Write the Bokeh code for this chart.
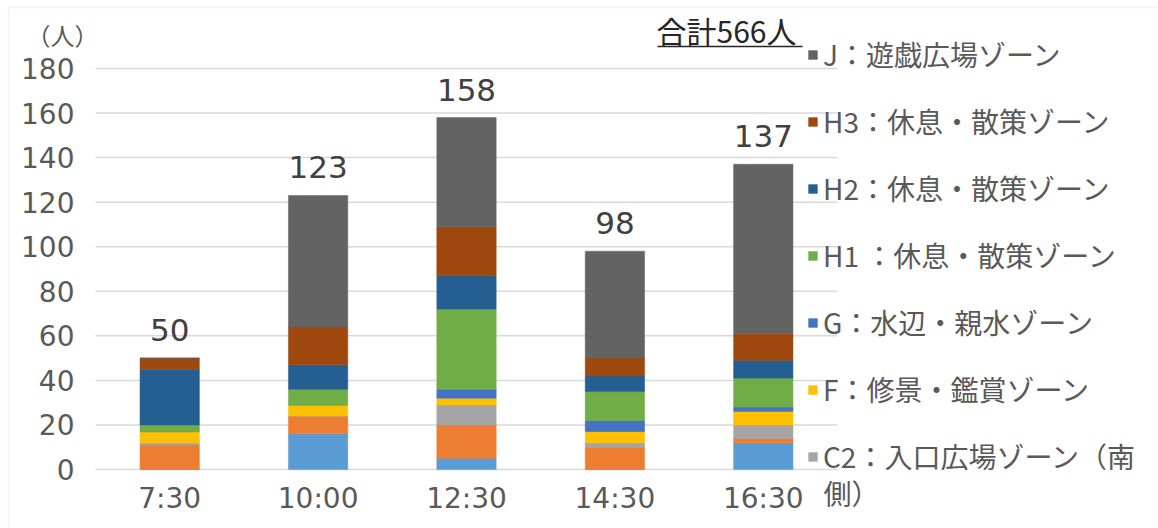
from bokeh.plotting import figure
from bokeh.models import Range1d, Legend, LegendItem, Label, BoxAnnotation, ColumnDataSource
from bokeh.core.properties import value
from bokeh.embed import file_html
from bokeh.resources import INLINE

# Visitors counted per survey time, stacked by zone (bottom to top)
times = ["7:30", "10:00", "12:30", "14:30", "16:30"]
zone_b = [0, 16, 5, 0, 12]
zone_c1 = [11, 8, 15, 10, 2]
zone_c2 = [1, 0, 9, 2, 6]
zone_f = [5, 5, 3, 5, 6]
zone_g = [0, 0, 4, 5, 2]
zone_h1 = [3, 7, 36, 13, 13]
zone_h2 = [25, 11, 15, 7, 8]
zone_h3 = [5, 17, 22, 8, 12]
zone_j = [0, 59, 49, 48, 76]

y_ticks = [0, 20, 40, 60, 80, 100, 120, 140, 160, 180]

stack_keys = ["b", "c1", "c2", "f", "g", "h1", "h2", "h3", "j"]
stack_values = [zone_b, zone_c1, zone_c2, zone_f, zone_g, zone_h1, zone_h2, zone_h3, zone_j]
stack_colors = ["#5B9BD5", "#ED7D31", "#A5A5A5", "#FFC000", "#4472C4",
                "#70AD47", "#255E91", "#9E480E", "#636363"]
legend_labels = {
    "j": "J：遊戯広場ゾーン",
    "h3": "H3：休息・散策ゾーン",
    "h2": "H2：休息・散策ゾーン",
    "h1": "H1 ：休息・散策ゾーン",
    "g": "G：水辺・親水ゾーン",
    "f": "F：修景・鑑賞ゾーン",
    "c2": "C2：入口広場ゾーン（南",
}
c2_wrap = "側）"

totals = [sum(col) for col in zip(*stack_values)]
grand_total = sum(totals)
pos = list(range(len(times)))

data = {"pos": pos, "time": times, "total": totals,
        "total_text": [str(t) for t in totals]}
for k, v in zip(stack_keys, stack_values):
    data[k] = v
source = ColumnDataSource(data)

TEXT = "#595959"
NUM_FONT = "DejaVu Sans"
JP_FONT = "Noto Sans CJK JP"

W, H = 1158, 528
PLOT_LEFT, PLOT_RIGHT, PLOT_TOP, PLOT_BOTTOM = 95, 837, 68, 469
y_max = y_ticks[-1]
n = len(times)
band = (PLOT_RIGHT - PLOT_LEFT) / n
unit = (PLOT_BOTTOM - PLOT_TOP) / y_max

x_start = -0.5 - PLOT_LEFT / band
x_end = x_start + W / band
y_start = -(H - PLOT_BOTTOM) / unit
y_end = y_start + H / unit

p = figure(width=W, height=H,
           x_range=Range1d(x_start, x_end), y_range=Range1d(y_start, y_end),
           x_axis_location=None, y_axis_location=None,
           output_backend="svg", toolbar_location=None, min_border=0)
p.outline_line_color = None
p.background_fill_color = "white"
p.border_fill_color = "white"
p.grid.visible = False

# horizontal gridlines across the category area
p.segment(x0=-0.5, x1=n - 0.5, y0=y_ticks, y1=y_ticks,
          line_color="#D9D9D9", line_width=1.5)

renderers = p.vbar_stack(stack_keys, x="pos", width=0.4, source=source,
                         color=stack_colors, line_width=0.5)

# totals above bars
p.text(x="pos", y="total", text="total_text", source=source,
       text_align="center", text_baseline="alphabetic", y_offset=-28,
       text_font=value(NUM_FONT), text_font_size="31px", text_color="#404040")

# tick labels
p.text(x=[-0.5] * len(y_ticks), y=y_ticks, text=[str(t) for t in y_ticks],
       text_align="right", text_baseline="middle", x_offset=-21,
       text_font=value(NUM_FONT), text_font_size="28px", text_color=TEXT)
p.text(x=pos, y=[0] * n, text=times,
       text_align="center", text_baseline="top", y_offset=12,
       text_font=value(NUM_FONT), text_font_size="28px", text_color=TEXT)

# legend, top series first
by_key = dict(zip(stack_keys, renderers))
items = [LegendItem(label=legend_labels[k], renderers=[by_key[k]])
         for k in ["j", "h3", "h2", "h1", "g", "f", "c2"]]
legend = Legend(items=items, location=(807, 52),
                glyph_width=11, glyph_height=11, label_standoff=5,
                label_height=34, spacing=27, padding=0, margin=0,
                border_line_color=None, background_fill_alpha=0,
                label_text_font=JP_FONT, label_text_font_size="28px",
                label_text_color=TEXT)
p.add_layout(legend, "center")
p.add_layout(Label(x=823, y=H - 492, x_units="screen", y_units="screen", text=c2_wrap,
                   text_font=JP_FONT, text_font_size="28px", text_color=TEXT,
                   text_baseline="middle"))

# unit and grand total
p.add_layout(Label(x=26, y=H - 34, x_units="screen", y_units="screen", text="（人）",
                   text_font=JP_FONT, text_font_size="24px", text_color=TEXT,
                   text_baseline="middle"))
p.add_layout(Label(x=656, y=H - 29, x_units="screen", y_units="screen",
                   text=f"合計{grand_total}人",
                   text_font=JP_FONT, text_font_size="30px", text_color="#262626",
                   text_baseline="middle"))
p.add_layout(BoxAnnotation(left=657, right=802, bottom=H - 46.7, top=H - 45.3,
                           left_units="screen", right_units="screen",
                           bottom_units="screen", top_units="screen",
                           fill_color="#262626", fill_alpha=1, line_color=None))

# chart border
p.add_layout(BoxAnnotation(left=8, right=W + 50, bottom=-50, top=H - 7,
                           left_units="screen", right_units="screen",
                           bottom_units="screen", top_units="screen",
                           fill_alpha=0, line_color="#D9D9D9", line_width=1.5))

open("out.html", "w").write(file_html(p, INLINE))
